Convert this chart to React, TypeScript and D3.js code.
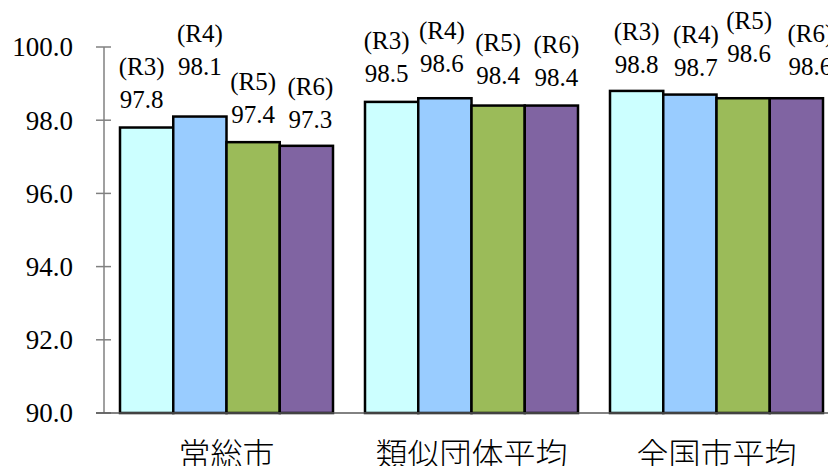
import React from "react";
import * as d3 from "d3";

// Categories, series and values
const categories = ["常総市", "類似団体平均", "全国市平均"];
const seriesNames = ["R3", "R4", "R5", "R6"];
const valuesR3 = [97.8, 98.5, 98.8];
const valuesR4 = [98.1, 98.6, 98.7];
const valuesR5 = [97.4, 98.4, 98.6];
const valuesR6 = [97.3, 98.4, 98.6];
const yTicks = [90, 92, 94, 96, 98, 100];

const seriesValues = [valuesR3, valuesR4, valuesR5, valuesR6];
const seriesColors = ["#CCFFFF", "#99CCFF", "#9BBB59", "#8064A2"];

// Hand-placed label nudges [dx, lift above bar top] per category, per series
const labelNudge: number[][][] = [
  [[-5, 20], [0, 42], [0, 19], [4, 18]],
  [[-5, 20], [-3, 26], [0, 22], [5, 20]],
  [[0, 18], [6, 19], [6, 36], [14, 23]],
];

const W = 828;
const H = 466;
const axisX = 104;
const serif = "Liberation Serif, Times New Roman, DejaVu Serif, serif";
const cjk = "Noto Sans CJK JP, Noto Sans, sans-serif";

export default function App() {
  const x0 = d3
    .scaleBand<string>()
    .domain(categories)
    .range([axisX, axisX + 3 * 245])
    .paddingInner(32 / 245)
    .paddingOuter(16 / 245);
  const x1 = d3
    .scaleBand<string>()
    .domain(seriesNames)
    .range([0, x0.bandwidth()]);
  const y = d3.scaleLinear().domain([90, 100]).range([413, 47]);

  return (
    <svg
      width={W}
      height={H}
      style={{ position: "absolute", left: 0, top: 0, background: "#fff" }}
    >
      {/* y axis */}
      <line x1={axisX} x2={axisX} y1={y(100)} y2={y(90)} stroke="#808080" strokeWidth={1.5} />
      {yTicks.map((t) => (
        <g key={t}>
          <line x1={96} x2={111} y1={y(t)} y2={y(t)} stroke="#808080" strokeWidth={1.5} />
          <text
            x={73}
            y={y(t)}
            dy="0.35em"
            textAnchor="end"
            style={{ fontFamily: serif, fontSize: 27 }}
            fill="#000"
          >
            {t.toFixed(1)}
          </text>
        </g>
      ))}

      {/* bars */}
      {categories.map((c, ci) => (
        <g key={c} transform={`translate(${x0(c)},0)`}>
          {seriesNames.map((s, si) => {
            const v = seriesValues[si][ci];
            const bx = x1(s)!;
            const bw = x1.bandwidth();
            return (
              <rect
                key={s}
                x={bx}
                y={y(v)}
                width={bw}
                height={y(90) - y(v)}
                fill={seriesColors[si]}
                stroke="#000"
                strokeWidth={2.5}
              />
            );
          })}
        </g>
      ))}

      {/* baseline */}
      <line x1={96} x2={W} y1={y(90)} y2={y(90)} stroke="#595959" strokeWidth={1.5} />

      {/* data labels */}
      {categories.map((c, ci) =>
        seriesNames.map((s, si) => {
          const v = seriesValues[si][ci];
          const [dx, lift] = labelNudge[ci][si];
          const cx = x0(c)! + x1(s)! + x1.bandwidth() / 2 + dx;
          const by = y(v) - lift;
          return (
            <g key={`${c}-${s}`} style={{ fontFamily: serif, fontSize: 25 }} fill="#000" textAnchor="middle">
              <text x={cx} y={by - 33}>{`(${s})`}</text>
              <text x={cx} y={by}>{v.toFixed(1)}</text>
            </g>
          );
        })
      )}

      {/* category labels */}
      {categories.map((c) => (
        <text
          key={c}
          x={x0(c)! + x0.bandwidth() / 2}
          y={466}
          textAnchor="middle"
          style={{ fontFamily: cjk, fontSize: 32, fontWeight: 300 }}
          fill="#000"
        >
          {c}
        </text>
      ))}
    </svg>
  );
}
